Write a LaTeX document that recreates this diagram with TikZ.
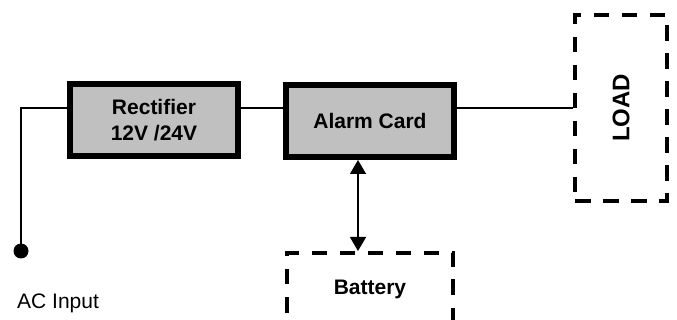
\documentclass[tikz,border=0pt]{standalone}
\usepackage{fontspec}
\setmainfont{Liberation Sans}
\usetikzlibrary{arrows.meta,calc,positioning}
\definecolor{Ink}{HTML}{000000}
\definecolor{BoxGray}{HTML}{C0C0C0}
\tikzset{unit/.style={draw=Ink,fill=BoxGray,line width=6pt,minimum width=168pt,minimum height=72pt,align=center,font=\fontsize{21}{26}\selectfont\bfseries},dashbox/.style={draw=Ink,line width=4pt,dash pattern=on 15.5pt off 12.5pt,align=center,font=\fontsize{21}{26}\selectfont\bfseries},wire/.style={draw=Ink,line width=1.4pt},link/.style={{Triangle[length=14pt,width=16pt]}-{Triangle[length=14pt,width=16pt]},line width=1.5pt,draw=Ink},terminal/.style={circle,fill=Ink,minimum size=15pt,inner sep=0pt}}

\begin{document}
\begin{tikzpicture}[x=1pt,y=-1pt]
      \useasboundingbox (0,0) rectangle (677,320);
      \node[unit](rect) at (154,120){Rectifier\\12V /24V};
      \node[unit](alarm) at (370,121){Alarm Card};
      \node[dashbox,minimum width=92pt,minimum height=186pt](load) at (621,108){};
      \node[rotate=90,font=\fontsize{24}{28}\selectfont\bfseries] (loadtxt) at (load.center){LOAD};
      \node[dashbox,minimum width=166pt,minimum height=72pt](bat) at (370,289){Battery};
      \node[terminal](ac) at (21,251){};
      \node[anchor=base west,inner sep=0pt,font=\fontsize{21}{26}\selectfont](actxt) at (17,308){AC Input};
      \draw[wire](ac.center)|-([yshift=12pt]rect.west);
      \draw[wire]([yshift=12pt]rect.east)--([yshift=13pt]alarm.west);
      \draw[wire]([yshift=13pt]alarm.east)--(load.west);
      \draw[link]([xshift=-12pt]alarm.south)--([xshift=-12pt]bat.north);
    \end{tikzpicture}
\end{document}
